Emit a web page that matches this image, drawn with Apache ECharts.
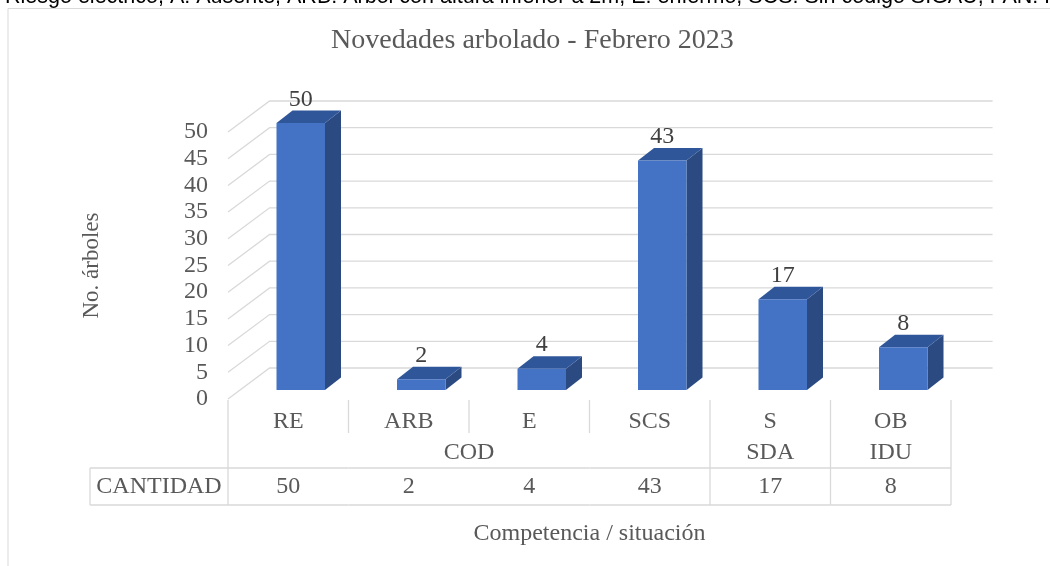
<!DOCTYPE html>
<html>
<head>
<meta charset="utf-8">
<script src="https://cdn.jsdelivr.net/npm/echarts@6/dist/echarts.min.js"></script>
<style>
  html, body { margin: 0; padding: 0; background: #fff; }
  #chart { width: 1050px; height: 566px; }
</style>
</head>
<body>
<div id="chart"></div>
<script>
// datos
const categories = ['RE', 'ARB', 'E', 'SCS', 'S', 'OB'];
const groups = ['COD', 'COD', 'COD', 'COD', 'SDA', 'IDU'];
const values = [50, 2, 4, 43, 17, 8];
const yTicks = [0, 5, 10, 15, 20, 25, 30, 35, 40, 45, 50];
const rowHeader = 'CANTIDAD';
const noteText = 'Riesgo eléctrico, A: Ausente, ARB: Árbol con altura inferior a 2m, E: enfermo, SCS: Sin código SIGAU, PAN: Pendiente';

// estilos
const serif = 'Liberation Serif';
const gridColor = '#d9d9d9';
const WALL_DX = 41.6, WALL_DY = -31;   // profundidad de la pared del fondo
const BAR_OX = 12.5, BAR_OY = -9;      // la barra va un poco hacia adentro
const BAR_DX = 16, BAR_DY = -12.5;     // profundidad de la barra
const BAR_W = 48.5;

let myChart = echarts.init(document.getElementById('chart'));

// lineas de la pared (diagonal + horizontal del fondo)
function renderWall(params, api) {
    let p = api.coord([0, api.value(1)]);
    let band = api.size([1, 0])[0];
    let x0 = p[0] - band / 2;
    let x1 = x0 + band * categories.length;
    return {
        type: 'polyline',
        shape: { points: [[x0, p[1]], [x0 + WALL_DX, p[1] + WALL_DY], [x1 + WALL_DX, p[1] + WALL_DY]] },
        style: { stroke: gridColor, lineWidth: 1.3, fill: null },
        silent: true
    };
}

// columnas 3D
function renderBar(params, api) {
    let i = api.value(0), v = api.value(1);
    let base = api.coord([i, 0]);
    let top = api.coord([i, v]);
    let xl = base[0] + BAR_OX - BAR_W / 2;
    let xr = xl + BAR_W;
    let yb = base[1] + BAR_OY;
    let yt = top[1] + BAR_OY;
    return {
        type: 'group',
        children: [
            { type: 'polygon', shape: { points: [[xr, yt], [xr + BAR_DX, yt + BAR_DY], [xr + BAR_DX, yb + BAR_DY], [xr, yb]] },
              style: { fill: '#2b4a82' } },
            { type: 'polygon', shape: { points: [[xl, yt], [xr, yt], [xr + BAR_DX, yt + BAR_DY], [xl + BAR_DX, yt + BAR_DY]] },
              style: { fill: '#30569a' } },
            { type: 'rect', shape: { x: xl, y: yt, width: BAR_W, height: yb - yt },
              style: { fill: '#4472c4' } },
            { type: 'text', x: xl + BAR_W / 2, y: yt + BAR_DY + 1,
              style: { text: String(v), font: '24px "' + serif + '"', fill: '#404040', align: 'center', verticalAlign: 'bottom' } }
        ]
    };
}

// tabla de datos bajo el eje
function renderTable(params, api) {
    let i = api.value(0);
    let c = api.coord([i, 0]);
    let band = api.size([1, 0])[0];
    let left = c[0] - band / 2, right = c[0] + band / 2;
    let y0 = c[1];
    let line = function (x1, y1, x2, y2) {
        return { type: 'line', shape: { x1: x1, y1: y1, x2: x2, y2: y2 }, style: { stroke: gridColor, lineWidth: 1.3 } };
    };
    let txt = function (x, y, t) {
        return { type: 'text', x: x, y: y, style: { text: t, font: '24px "' + serif + '"', fill: '#595959', align: 'center', verticalAlign: 'middle' } };
    };
    let kids = [];
    let newGroup = i === 0 || groups[i] !== groups[i - 1];
    kids.push(line(left, y0 + 1, left, newGroup ? y0 + 106 : y0 + 34));
    if (i === categories.length - 1) kids.push(line(right, y0 + 1, right, y0 + 106));
    kids.push(line(left, y0 + 69, right, y0 + 69));
    kids.push(line(left, y0 + 106, right, y0 + 106));
    kids.push(txt(c[0], y0 + 23, categories[i]));
    kids.push(txt(c[0], y0 + 88, String(values[i])));
    if (newGroup) {
        let j = i;
        while (j + 1 < groups.length && groups[j + 1] === groups[i]) j++;
        kids.push(txt((left + left + band * (j - i + 1)) / 2, y0 + 54, groups[i]));
    }
    if (i === 0) {
        let hl = left - 138;
        kids.push(line(hl, y0 + 69, left, y0 + 69));
        kids.push(line(hl, y0 + 106, left, y0 + 106));
        kids.push(line(hl, y0 + 69, hl, y0 + 106));
        kids.push(txt((hl + left) / 2, y0 + 88, rowHeader));
    }
    return { type: 'group', children: kids, silent: true };
}

let option = {
    animation: false,
    title: {
        text: 'Novedades arbolado - Febrero 2023',
        left: 326,
        top: 22,
        textStyle: { fontFamily: serif, fontSize: 28, fontWeight: 'normal', color: '#595959' }
    },
    graphic: [
        { type: 'rect', shape: { x: 8, y: 8.5, width: 1100, height: 600 }, style: { fill: null, stroke: gridColor, lineWidth: 1 } },
        { type: 'text', x: 5, y: -2.5, style: { text: noteText, font: '21.5px "Liberation Sans"', fill: '#000', verticalAlign: 'middle' } }
    ],
    grid: { left: 228, right: 99, top: 132, bottom: 167 },
    xAxis: {
        type: 'category',
        data: categories,
        axisLabel: { show: false },
        axisLine: { show: false },
        axisTick: { show: false },
        name: 'Competencia / situación',
        nameLocation: 'middle',
        nameGap: 123,
        nameTextStyle: { fontFamily: serif, fontSize: 24, color: '#595959' }
    },
    yAxis: {
        type: 'value',
        min: 0,
        max: 50,
        interval: 5,
        axisLabel: { fontFamily: serif, fontSize: 24, color: '#595959', margin: 20 },
        axisLine: { show: false },
        axisTick: { show: false },
        splitLine: { show: false },
        name: 'No. árboles',
        nameLocation: 'middle',
        nameGap: 125,
        nameTextStyle: { fontFamily: serif, fontSize: 23, color: '#595959' }
    },
    series: [
        { type: 'custom', renderItem: renderWall, data: yTicks.map(function (t) { return [0, t]; }), clip: false, silent: true, z: 1 },
        { type: 'custom', renderItem: renderBar, data: values.map(function (v, i) { return [i, v]; }), clip: false, silent: true, z: 3 },
        { type: 'custom', renderItem: renderTable, data: categories.map(function (c, i) { return [i, 0]; }), clip: false, silent: true, z: 2 }
    ]
};

myChart.setOption(option);
</script>
</body>
</html>
